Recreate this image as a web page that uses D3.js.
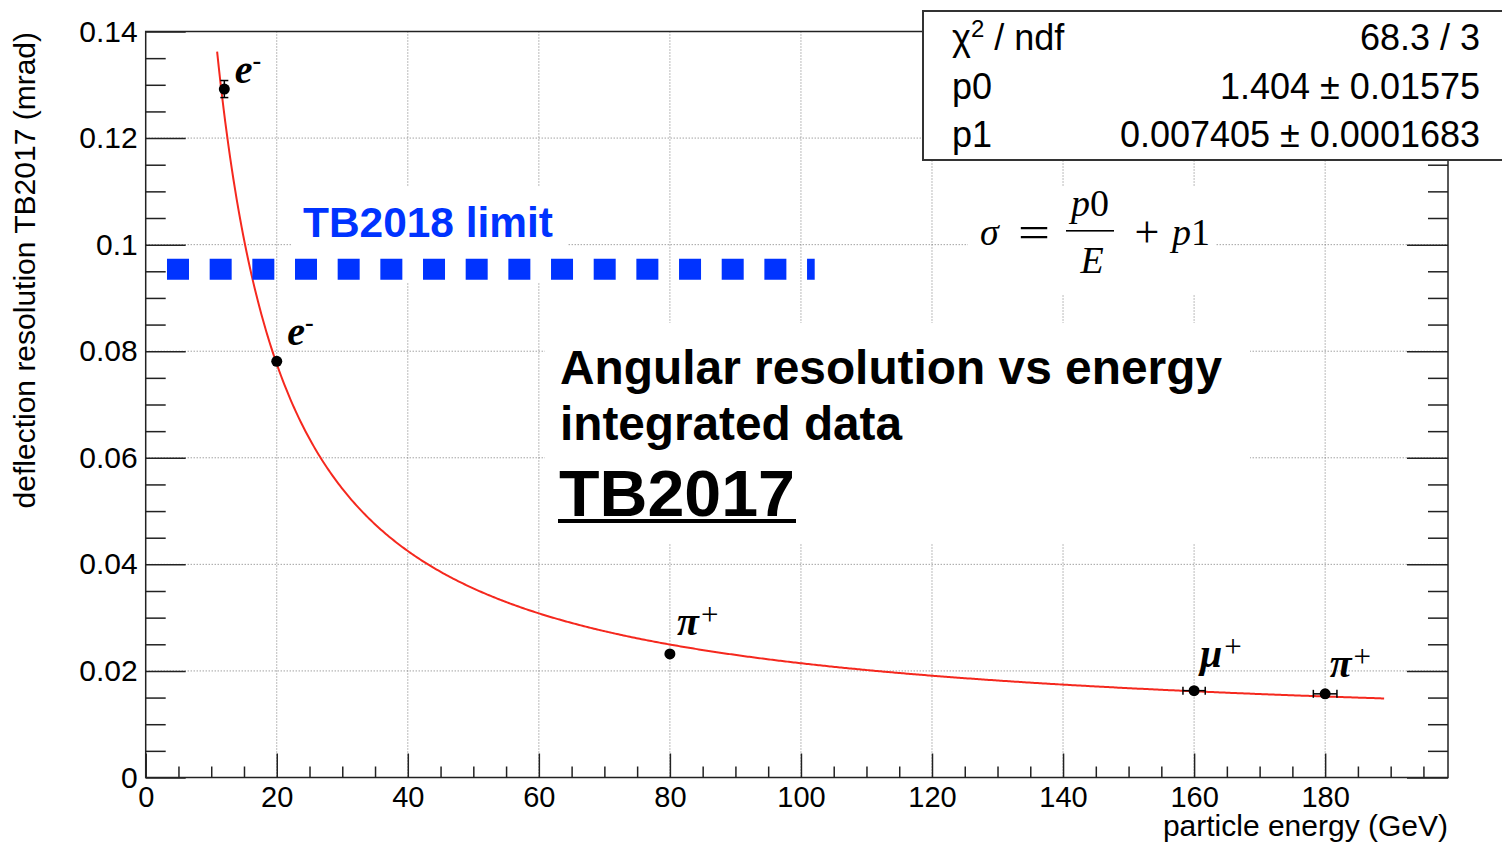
<!DOCTYPE html>
<html lang="en">
<head>
<meta charset="utf-8">
<title>Angular resolution vs energy</title>
<script src="https://cdn.jsdelivr.net/npm/d3@7"></script>
<style>
  body { margin: 0; background: #fff; }
  svg { display: block; }
</style>
</head>
<body>
<svg width="1502" height="844" font-family="'Liberation Sans', Arial, Helvetica, sans-serif"></svg>
<script>
// data
var energy        = [12, 20, 80, 160, 180];
var resolution    = [0.1292, 0.0781, 0.0232, 0.0163, 0.0157];
var energyErr     = [0.3, 0.3, 0.3, 1.7, 1.8];
var resolutionErr = [0.0016, 0.0004, 0.0004, 0.0003, 0.0003];

// particle labels
var particle  = ["e", "e", "π", "μ", "π"];
var charge    = ["-", "-", "+", "+", "+"];
var labelE    = [13.6, 21.6, 81.1, 160.9, 180.7];
var labelRes  = [0.1304, 0.0811, 0.0267, 0.0207, 0.0188];

// fit p0/E + p1
var p0 = 1.404, p1 = 0.007405;
var fitRange = [10.9, 189];

// TB2018 limit line
var limitRes = 0.0954;
var limitRange = [3.25, 102.1];

var xTicks = [0, 20, 40, 60, 80, 100, 120, 140, 160, 180];
var yTicks = [0, 0.02, 0.04, 0.06, 0.08, 0.1, 0.12, 0.14];

var statsNames  = ["χ", "p0", "p1"];
var statsValues = ["68.3 / 3", "1.404 ± 0.01575", "0.007405 ± 0.0001683"];

var svg = d3.select("svg"),
    padL = 145.7, padR = 1448, padT = 31.5, padB = 777.5;

var x = d3.scaleLinear().domain([0, 198.75]).range([padL, padR]);
var y = d3.scaleLinear().domain([0, 0.14]).range([padB, padT]);

var xMinor = d3.range(0, 198, 5).filter(function(d) { return d % 20 !== 0; });
var yMinor = d3.range(0, 0.1401, 0.005).filter(function(d) { return Math.abs(d / 0.02 - Math.round(d / 0.02)) > 1e-6; });

// grid
var grid = svg.append("g").attr("stroke", "#777").attr("stroke-width", 1).attr("stroke-dasharray", "1,2");
grid.selectAll(".gx").data(xTicks.slice(1)).enter().append("line")
    .attr("x1", function(d) { return x(d); }).attr("x2", function(d) { return x(d); })
    .attr("y1", padT).attr("y2", padB);
grid.selectAll(".gy").data(yTicks.slice(1, -1)).enter().append("line")
    .attr("x1", padL).attr("x2", padR)
    .attr("y1", function(d) { return y(d); }).attr("y2", function(d) { return y(d); });

// white boxes behind text
var boxes = [[291, 187, 276, 96], [968, 187, 248, 108], [545, 323, 705, 220]];
svg.selectAll(".box").data(boxes).enter().append("rect")
    .attr("x", function(d) { return d[0]; }).attr("y", function(d) { return d[1]; })
    .attr("width", function(d) { return d[2]; }).attr("height", function(d) { return d[3]; })
    .attr("fill", "#fff");

// texts
svg.append("text").attr("x", 303).attr("y", 237)
    .attr("font-size", 42).attr("font-weight", "bold").attr("fill", "#0033ff")
    .attr("textLength", 250).attr("lengthAdjust", "spacingAndGlyphs")
    .text("TB2018 limit");

svg.append("text").attr("x", 560).attr("y", 384)
    .attr("font-size", 47.5).attr("font-weight", "bold")
    .attr("textLength", 662).attr("lengthAdjust", "spacingAndGlyphs")
    .text("Angular resolution vs energy");
svg.append("text").attr("x", 560).attr("y", 440)
    .attr("font-size", 47.5).attr("font-weight", "bold")
    .attr("textLength", 342).attr("lengthAdjust", "spacingAndGlyphs")
    .text("integrated data");
svg.append("text").attr("x", 559).attr("y", 516)
    .attr("font-size", 65).attr("font-weight", "bold")
    .attr("textLength", 236).attr("lengthAdjust", "spacingAndGlyphs")
    .text("TB2017");
svg.append("rect").attr("x", 558).attr("y", 519).attr("width", 238).attr("height", 4).attr("fill", "#000");

// formula
var serif = "'Liberation Serif', 'Times New Roman', serif";
var f = svg.append("g").attr("font-family", serif).attr("font-size", 38).attr("fill", "#000");
f.append("text").attr("x", 980).attr("y", 245).attr("font-style", "italic").text("σ");
f.append("text").attr("x", 1034).attr("y", 247).attr("font-size", 44).attr("text-anchor", "middle")
    .attr("textLength", 32).attr("lengthAdjust", "spacingAndGlyphs").text("=");
var num = f.append("text").attr("x", 1090).attr("y", 216).attr("text-anchor", "middle");
num.append("tspan").attr("font-style", "italic").text("p");
num.append("tspan").text("0");
f.append("rect").attr("x", 1066).attr("y", 230).attr("width", 48).attr("height", 1.6);
f.append("text").attr("x", 1092).attr("y", 273).attr("text-anchor", "middle").attr("font-style", "italic").text("E");
f.append("text").attr("x", 1147).attr("y", 247).attr("font-size", 44).attr("text-anchor", "middle").text("+");
var pp = f.append("text").attr("x", 1172).attr("y", 245);
pp.append("tspan").attr("font-style", "italic").text("p");
pp.append("tspan").text("1");

// fit curve
var fitE = d3.range(fitRange[0], fitRange[1], 0.25).concat([fitRange[1]]);
svg.append("path")
    .datum(fitE)
    .attr("fill", "none").attr("stroke", "#f5281e").attr("stroke-width", 2)
    .attr("d", d3.line()
        .x(function(d) { return x(d); })
        .y(function(d) { return y(p0 / d + p1); }));

// TB2018 limit dashed line
svg.append("line")
    .attr("x1", x(limitRange[0])).attr("x2", x(limitRange[1]))
    .attr("y1", y(limitRes)).attr("y2", y(limitRes))
    .attr("stroke", "#0033ff").attr("stroke-width", 21)
    .attr("stroke-dasharray", "22,20.67");

// points with error bars
var pts = energy.map(function(e, i) {
  return { e: e, r: resolution[i], ex: energyErr[i], ey: resolutionErr[i] };
});
var pg = svg.append("g").attr("stroke", "#000").attr("stroke-width", 1.5);
pts.forEach(function(d) {
  var cx = x(d.e), cy = y(d.r);
  pg.append("line").attr("x1", x(d.e - d.ex)).attr("x2", x(d.e + d.ex)).attr("y1", cy).attr("y2", cy);
  pg.append("line").attr("x1", cx).attr("x2", cx).attr("y1", y(d.r - d.ey)).attr("y2", y(d.r + d.ey));
  if (d.ex > 1) {
    [d.e - d.ex, d.e + d.ex].forEach(function(v) {
      pg.append("line").attr("x1", x(v)).attr("x2", x(v)).attr("y1", cy - 4).attr("y2", cy + 4);
    });
  }
  if (d.ey > 0.001) {
    [d.r - d.ey, d.r + d.ey].forEach(function(v) {
      pg.append("line").attr("x1", cx - 4).attr("x2", cx + 4).attr("y1", y(v)).attr("y2", y(v));
    });
  }
});
svg.selectAll(".pt").data(pts).enter().append("circle")
    .attr("cx", function(d) { return x(d.e); })
    .attr("cy", function(d) { return y(d.r); })
    .attr("r", 5.5).attr("fill", "#000");

// particle labels
particle.forEach(function(p, i) {
  var t = svg.append("text")
      .attr("x", x(labelE[i])).attr("y", y(labelRes[i]))
      .attr("font-family", serif);
  t.append("tspan").attr("font-size", 40).attr("font-weight", "bold").attr("font-style", "italic").text(p);
  if (charge[i] === "-") {
    t.append("tspan").attr("font-size", 26).attr("font-weight", "bold").attr("dy", -14).text("-");
  } else {
    t.append("tspan").attr("font-size", 31).attr("dx", 2).attr("dy", -10).text("+");
  }
});

// axes: labels + major/minor ticks
var yAxis = svg.append("g").attr("transform", "translate(" + padL + ",0)")
    .call(d3.axisLeft(y).tickValues(yTicks).tickSize(-40).tickPadding(8)
        .tickFormat(function(d) { return String(+d.toFixed(2)); }));
var yAxisMinor = svg.append("g").attr("transform", "translate(" + padL + ",0)")
    .call(d3.axisLeft(y).tickValues(yMinor).tickSize(-20).tickFormat(""));
var yAxisR = svg.append("g").attr("transform", "translate(" + padR + ",0)")
    .call(d3.axisRight(y).tickValues(yTicks).tickSize(-41).tickFormat(""));
var yAxisRMinor = svg.append("g").attr("transform", "translate(" + padR + ",0)")
    .call(d3.axisRight(y).tickValues(yMinor).tickSize(-20).tickFormat(""));
var xAxis = svg.append("g").attr("transform", "translate(0," + padB + ")")
    .call(d3.axisBottom(x).tickValues(xTicks).tickSize(-24).tickPadding(9)
        .tickFormat(function(d) { return d; }));
var xAxisMinor = svg.append("g").attr("transform", "translate(0," + padB + ")")
    .call(d3.axisBottom(x).tickValues(xMinor).tickSize(-11).tickFormat(""));

[yAxis, yAxisMinor, yAxisR, yAxisRMinor, xAxis, xAxisMinor].forEach(function(a) {
  a.select(".domain").remove();
  a.attr("font-family", null);
  a.selectAll("line").attr("stroke", "#222").attr("stroke-width", 1.5);
  a.selectAll("text").attr("fill", "#000");
});
yAxis.attr("font-size", 30);
xAxis.attr("font-size", 29);

// frame
svg.append("rect").attr("x", padL).attr("y", padT)
    .attr("width", padR - padL).attr("height", padB - padT)
    .attr("fill", "none").attr("stroke", "#222").attr("stroke-width", 1.5);

// axis titles
svg.append("text")
    .attr("transform", "translate(35,32) rotate(-90)")
    .attr("text-anchor", "end").attr("font-size", 30)
    .text("deflection resolution TB2017 (mrad)");
svg.append("text")
    .attr("x", padR).attr("y", 836)
    .attr("text-anchor", "end").attr("font-size", 30)
    .text("particle energy (GeV)");

// stats box
svg.append("rect").attr("x", 923).attr("y", 11).attr("width", 620).attr("height", 149)
    .attr("fill", "#fff").attr("stroke", "#333").attr("stroke-width", 2);
var rowY = [50, 98.5, 147];
statsNames.forEach(function(n, i) {
  var t = svg.append("text").attr("x", 952).attr("y", rowY[i]).attr("font-size", 36);
  if (i === 0) {
    t.append("tspan").text("χ");
    t.append("tspan").attr("font-size", 24).attr("dy", -13).text("2");
    t.append("tspan").attr("dy", 13).text(" / ndf");
  } else {
    t.text(n);
  }
  svg.append("text").attr("x", 1480).attr("y", rowY[i]).attr("font-size", 36)
      .attr("text-anchor", "end").text(statsValues[i]);
});
</script>
</body>
</html>
